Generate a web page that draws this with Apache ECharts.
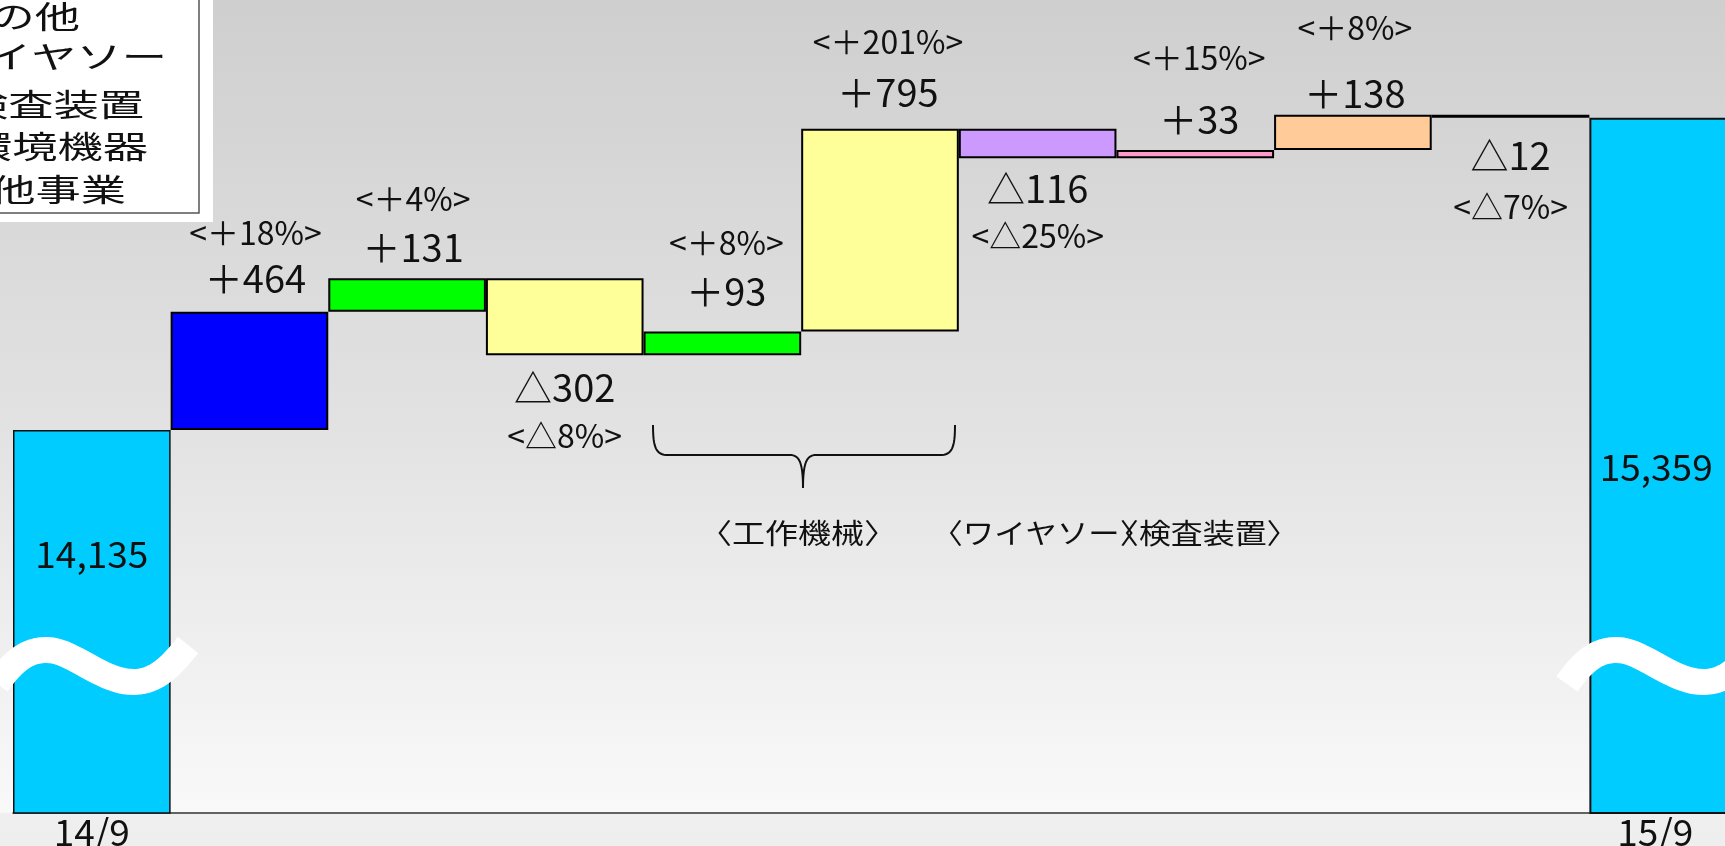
<!DOCTYPE html>
<html>
<head>
<meta charset="utf-8">
<script src="https://cdn.jsdelivr.net/npm/echarts@6/dist/echarts.min.js"></script>
<style>
  html, body { margin: 0; padding: 0; width: 1725px; height: 846px; overflow: hidden; }
  #chart { width: 1725px; height: 846px; }
</style>
</head>
<body>
<div id="chart"></div>
<script>
// Period totals (left / right columns)
const periods = ['14/9', '15/9'];
const openingTotal = 14135;
const closingTotal = 15359;

// Change by segment between the two periods, and the rate of change (%)
const changes = [464, 131, -302, 93, 795, -116, 33, 138, -12];
const changeRates = [18, 4, -8, 8, 201, -25, 15, 8, -7];

// Legend entries and group captions
const legendNames = ['その他', 'ワイヤソー', '検査装置', '環境機器', '他事業'];
const groupCaptions = ['〈工作機械〉', '〈ワイヤソー〉', '〈検査装置〉'];

// ---- styling ----
const FONT = '"Noto Sans CJK JP", "Noto Sans", sans-serif';
const totalColor = '#00CCFF';
const changeColors = ['#0000FF', '#00FF00', '#FFFF99', '#00FF00', '#FFFF99', '#CC99FF', '#FF99CC', '#FFCC99', '#000000'];
// distance of the value label from the bar edge, and of the rate label from the value label
const valueGap = [33, 31, 32, 40, 36, 30, 30, 21, 38];
const rateGap = [46, 48, 49, 49, 51, 47, 62, 66, 51];
const labelShiftX = [6, 6, 0, 4, 8, 0, 4, 2, 0];
const totalLabelGap = [124, 349];
const totalLabelShiftX = [0, -12];

const fmtChange = v => (v >= 0 ? '＋' : '△') + Math.abs(v);
const fmtRate = r => '<' + (r >= 0 ? '＋' : '△') + Math.abs(r) + '%>';
const fmtTotal = v => v.toLocaleString('en-US');

const categories = [periods[0]].concat(changes.map(fmtChange), [periods[1]]);

// invisible base for each floating bar
const baseValues = [0];
let running = openingTotal;
changes.forEach(d => {
  const next = running + d;
  baseValues.push(Math.min(running, next));
  running = next;
});
baseValues.push(0);

function totalItem(v, k) {
  return {
    value: v,
    itemStyle: { color: totalColor, borderColor: '#111', borderWidth: k === 0 ? 1.5 : 2 },
    label: {
      show: true, position: 'insideTop', distance: 0,
      offset: [totalLabelShiftX[k], totalLabelGap[k] - 20],
      formatter: fmtTotal(v), fontSize: 37, lineHeight: 40, color: '#111'
    }
  };
}

const barItems = [totalItem(openingTotal, 0)];
changes.forEach((d, i) => {
  const L = rateGap[i];
  const up = d >= 0;
  barItems.push({
    value: Math.abs(d),
    itemStyle: { color: changeColors[i], borderColor: '#000', borderWidth: changeColors[i] === '#000000' ? 3 : 2 },
    label: {
      show: true,
      position: up ? 'top' : 'bottom',
      distance: 0,
      offset: [labelShiftX[i], up ? L / 2 - valueGap[i] : valueGap[i] - L / 2],
      formatter: up
        ? '{p|' + fmtRate(changeRates[i]) + '}\n{v|' + fmtChange(d) + '}'
        : '{v|' + fmtChange(d) + '}\n{p|' + fmtRate(changeRates[i]) + '}',
      rich: {
        p: { fontSize: 32, lineHeight: L, color: '#111', fontFamily: FONT },
        v: { fontSize: 38, lineHeight: L, color: '#111', fontFamily: FONT }
      }
    }
  });
});
barItems.push(totalItem(closingTotal, 1));

// sample a chain of cubic segments [[p0, c1, c2, p1], ...] into polyline points
function sampleCubics(segs, steps) {
  const pts = [];
  segs.forEach((s, k) => {
    for (let j = (k === 0 ? 0 : 1); j <= steps; j++) {
      const t = j / steps, u = 1 - t;
      const x = u*u*u*s[0][0] + 3*u*u*t*s[1][0] + 3*u*t*t*s[2][0] + t*t*t*s[3][0];
      const y = u*u*u*s[0][1] + 3*u*u*t*s[1][1] + 3*u*t*t*s[2][1] + t*t*t*s[3][1];
      pts.push([x, y]);
    }
  });
  return pts;
}

// break marks drawn across the two truncated total columns
function wavePoints(c) {
  return sampleCubics([
    [[c - 50, 684], [c - 30, 655], [c - 15, 650], [c, 650]],
    [[c, 650], [c + 25, 650], [c + 55, 682], [c + 86, 682]],
    [[c + 86, 682], [c + 110, 682], [c + 125, 665], [c + 141, 645]]
  ], 24);
}

const graphics = [];
// legend panel (partly outside the left edge)
graphics.push({ type: 'rect', z: 100, shape: { x: -2, y: -2, width: 215, height: 224 }, style: { fill: '#ffffff' } });
graphics.push({ type: 'rect', z: 101, shape: { x: -2, y: -2, width: 201, height: 215 }, style: { fill: '#ffffff', stroke: '#555', lineWidth: 1.5 } });
const legendY = [16, 56, 104, 146, 189];
const legendRight = [80, 167, 144, 148, 126];
legendNames.forEach((name, i) => {
  graphics.push({
    type: 'text', z: 102, x: legendRight[i], y: legendY[i], scaleX: 1.46,
    style: { text: name, font: '31px ' + FONT, fill: '#111', textAlign: 'right', textVerticalAlign: 'middle' }
  });
});
// white break waves
[47, 1617].forEach(c => {
  graphics.push({
    type: 'polyline', z: 90, shape: { points: wavePoints(c) },
    style: { fill: null, stroke: '#ffffff', lineWidth: 26, lineCap: 'butt', lineJoin: 'round' }
  });
});
// brace grouping the machine tool bars
[
  [[[653, 425], [653, 448], [656, 455], [668, 455]], [[668, 455], [708, 455], [750, 455], [790, 455]],
   [[790, 455], [799, 455], [803, 462], [803, 488]]],
  [[[803, 488], [803, 462], [807, 455], [816, 455]], [[816, 455], [857, 455], [899, 455], [940, 455]],
   [[940, 455], [952, 455], [955, 448], [955, 425]]]
].forEach(segs => {
  graphics.push({
    type: 'polyline', z: 90, shape: { points: sampleCubics(segs, 16) },
    style: { fill: null, stroke: '#111', lineWidth: 2 }
  });
});
// group captions
graphics.push({
  type: 'text', z: 90, x: 798, y: 533, scaleX: 1.18,
  style: { text: groupCaptions[0], font: '28px ' + FONT, fill: '#111', textAlign: 'center', textVerticalAlign: 'middle' }
});
graphics.push({
  type: 'text', z: 90, x: 1151, y: 533, scaleX: 1.12,
  style: { text: groupCaptions[1], font: '28px ' + FONT, fill: '#111', textAlign: 'right', textVerticalAlign: 'middle' }
});
graphics.push({
  type: 'text', z: 90, x: 1107, y: 533, scaleX: 1.14,
  style: { text: groupCaptions[2], font: '28px ' + FONT, fill: '#111', textAlign: 'left', textVerticalAlign: 'middle' }
});

const chart = echarts.init(document.getElementById('chart'), null, { renderer: 'canvas' });
chart.setOption({
  animation: false,
  backgroundColor: {
    type: 'linear', x: 0, y: 0, x2: 0, y2: 1,
    colorStops: [
      { offset: 0, color: '#cfcfcf' },
      { offset: 0.5, color: '#e2e2e2' },
      { offset: 0.96, color: '#f9f9f9' },
      { offset: 0.962, color: '#efefef' },
      { offset: 1, color: '#eeeeee' }
    ]
  },
  textStyle: { fontFamily: FONT },
  grid: { left: 13, width: 1734, top: 0, bottom: 33, containLabel: false, outerBoundsMode: 'none' },
  xAxis: {
    type: 'category',
    data: categories,
    axisTick: { show: false },
    axisLine: { show: true, lineStyle: { color: '#333', width: 1.5 } },
    axisLabel: {
      interval: 0, margin: 0, color: '#111', fontFamily: FONT,
      formatter: (v, i) => i === 0 ? '{a|' + v + '}'
        : (i === categories.length - 1 ? '{b|' + v + '}' : ''),
      rich: {
        a: { fontSize: 37, color: '#111', fontFamily: FONT },
        b: { fontSize: 37, color: '#111', fontFamily: FONT, padding: [0, 26, 0, 0] }
      }
    },
    splitLine: { show: false }
  },
  yAxis: {
    type: 'value', min: 12633, max: 15821, show: false,
    splitLine: { show: false }
  },
  series: [
    {
      name: 'base', type: 'bar', stack: 'flow', silent: true,
      barCategoryGap: 0,
      itemStyle: { color: 'rgba(0,0,0,0)' },
      data: baseValues
    },
    {
      name: 'amount', type: 'bar', stack: 'flow',
      barCategoryGap: 0,
      data: barItems
    }
  ],
  graphic: { elements: graphics }
});
</script>
</body>
</html>
